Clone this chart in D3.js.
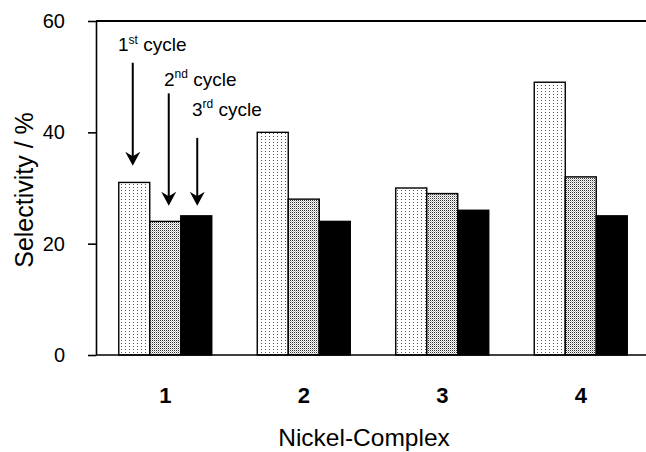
<!DOCTYPE html>
<html><head><meta charset="utf-8">
<script src="https://cdn.jsdelivr.net/npm/d3@7"></script>
<style>
body{margin:0;background:#fff;}
text{font-family:"Liberation Sans",Arial,Helvetica,sans-serif;fill:#000;}
</style></head>
<body><svg id="chart" width="646" height="452"></svg>
<script>
const categories = ["1","2","3","4"];
const series = ["1st cycle","2nd cycle","3rd cycle"];
const cycle1 = [31,40,30,49];
const cycle2 = [24,28,29,32];
const cycle3 = [25,24,26,25];
const yTicks = [0,20,40,60];
const yTitle = "Selectivity / %";
const xTitle = "Nickel-Complex";
// annotation labels: [base, superscript, rest], with arrow start/end in data values
const annLabels = [["1","st"," cycle"],["2","nd"," cycle"],["3","rd"," cycle"]];
const annText = [54.6, 48.4, 43.0];
const annStart = [52.5, 47.0, 39.0];
const annEnd = [34.0, 26.8, 26.8];

const svg = d3.select("#chart");
const L = 96, T = 21, B = 355, R = 650;

const y = d3.scaleLinear().domain([0,60]).range([B,T]);
const x0 = d3.scaleBand().domain(categories).range([L,R]).padding(0);
const x1 = d3.scaleBand().domain(series).range([22.75, x0.bandwidth()-22.75]).padding(0);

const defs = svg.append("defs");
const p1 = defs.append("pattern").attr("id","pat1").attr("patternUnits","userSpaceOnUse").attr("width",4).attr("height",3);
p1.append("rect").attr("width",4).attr("height",3).attr("fill","#fff");
p1.append("rect").attr("x",1).attr("y",1).attr("width",1).attr("height",1).attr("fill","#555");
const p2 = defs.append("pattern").attr("id","pat2").attr("patternUnits","userSpaceOnUse").attr("width",2).attr("height",2);
p2.append("rect").attr("width",2).attr("height",2).attr("fill","#fff");
p2.append("rect").attr("x",0).attr("y",0).attr("width",1).attr("height",1).attr("fill","#333");
p2.append("rect").attr("x",1).attr("y",1).attr("width",1).attr("height",1).attr("fill","#bbb");

const fills = ["url(#pat1)","url(#pat2)","#000"];
const vals = [cycle1,cycle2,cycle3];
const data = [];
categories.forEach((c,i)=>series.forEach((s,j)=>data.push({c,s,j,v:vals[j][i]})));

svg.append("g").selectAll("rect").data(data).join("rect")
  .attr("x",d=>x0(d.c)+x1(d.s))
  .attr("y",d=>y(d.v))
  .attr("width",x1.bandwidth())
  .attr("height",d=>y(0)-y(d.v))
  .attr("fill",d=>fills[d.j])
  .attr("stroke","#000").attr("stroke-width",1.4);

// frame lines
svg.append("line").attr("x1",L).attr("x2",646).attr("y1",T).attr("y2",T).attr("stroke","#000").attr("stroke-width",2);
svg.append("line").attr("x1",L).attr("x2",646).attr("y1",B).attr("y2",B).attr("stroke","#000").attr("stroke-width",1.6);

// y axis
const ya = svg.append("g").attr("transform",`translate(${L},0)`)
  .call(d3.axisLeft(y).tickValues(yTicks).tickSize(8).tickPadding(23).tickSizeOuter(0));
ya.select(".domain").attr("stroke","#000").attr("stroke-width",1.6);
ya.selectAll(".tick line").attr("stroke","#000").attr("stroke-width",1.6);
ya.selectAll(".tick text").attr("font-size",20).attr("font-family","Liberation Sans, Arial, sans-serif").attr("fill","#000");

// x category labels
svg.append("g").selectAll("text").data(categories).join("text")
  .attr("x",d=>x0(d)+x0.bandwidth()/2)
  .attr("y",403)
  .attr("text-anchor","middle").attr("font-size",22).attr("font-weight","bold")
  .text(d=>d);

// titles
svg.append("text").attr("x",364).attr("y",446).attr("text-anchor","middle").attr("font-size",24.5).text(xTitle);
svg.append("text").attr("transform","translate(33,190) rotate(-90)").attr("text-anchor","middle").attr("font-size",25).text(yTitle);

// annotations
const ann = svg.append("g");
const txtX = [118,164,192];
const arrowOff = [-1.5, 3.5, 1];
series.forEach((s,j)=>{
  const ax = x0(categories[0]) + x1(s) + x1.bandwidth()/2 + arrowOff[j];
  const t = ann.append("text").attr("x",txtX[j]).attr("y",y(annText[j])).attr("font-size",19);
  t.append("tspan").text(annLabels[j][0]);
  t.append("tspan").attr("font-size",12).attr("dy",-7.5).text(annLabels[j][1]);
  t.append("tspan").attr("dy",7.5).text(annLabels[j][2]);
  const ys = y(annStart[j]), ye = y(annEnd[j]);
  ann.append("line").attr("x1",ax).attr("x2",ax).attr("y1",ys).attr("y2",ye-8).attr("stroke","#000").attr("stroke-width",2);
  ann.append("path").attr("transform",`translate(${ax},${ye})`)
    .attr("d","M0,0 L-7.5,-14 L0,-9.5 L7.5,-14 Z").attr("fill","#000");
});
</script></body></html>
